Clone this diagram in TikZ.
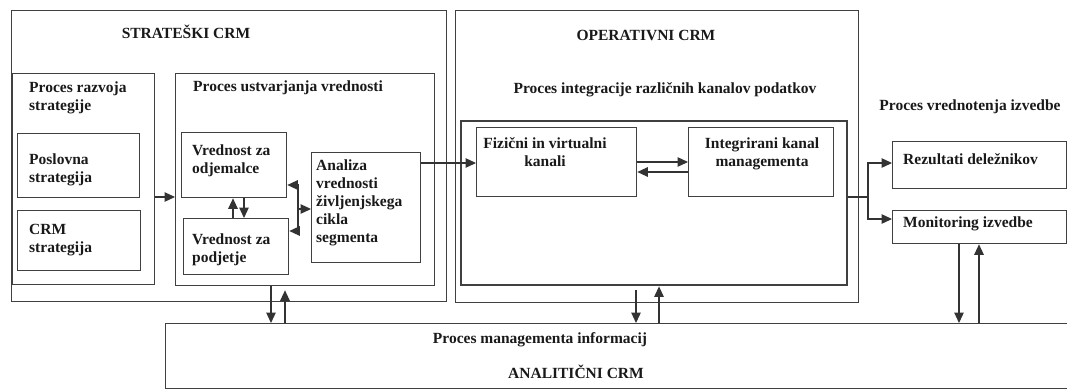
\documentclass[tikz,border=0pt]{standalone}
\usepackage{fontspec}
\setmainfont{Liberation Serif}
\usetikzlibrary{arrows.meta}

\tikzset{
  box/.style={draw=black!75, line width=1.3pt, inner sep=0pt, anchor=north west},
  dbox/.style={box, line width=2.4pt},
  lbl/.style={inner sep=0pt, text=black!90, font=\fontsize{15.5}{18}\selectfont\bfseries},
  arr/.style={draw=black!80, line width=1.2pt, -{Triangle[length=10.5pt,width=9.5pt]}},
  ln/.style={draw=black!80, line width=1.2pt}
}

\begin{document}
\begin{tikzpicture}[x=1pt, y=-1pt]
\useasboundingbox (0,0) rectangle (1067,389);

% outer areas
\node[box, minimum width=435pt, minimum height=291pt] (strat) at (11,10) {};
\node[box, minimum width=403pt, minimum height=292pt] (oper)  at (455,10) {};
\node[box, minimum width=905pt, minimum height=65pt]  (analit) at (165,323) {};

% strategic CRM
\node[box, minimum width=142pt, minimum height=211pt] (razv) at (12,73) {};
\node[box, minimum width=122pt, minimum height=64pt]  (posl) at (17,133) {};
\node[box, minimum width=123pt, minimum height=60pt]  (crms) at (17,210) {};
\node[box, minimum width=259pt, minimum height=212pt] (ustv) at (175,73) {};
\node[box, minimum width=105pt, minimum height=65pt]  (odj)  at (181,132) {};
\node[box, minimum width=105pt, minimum height=56pt]  (podj) at (183,218) {};
\node[box, minimum width=109pt, minimum height=110pt] (anal) at (311,152) {};

% operative CRM
\node[dbox, minimum width=386pt, minimum height=164pt] (integ) at (460,120) {};
\node[box, minimum width=160pt, minimum height=69pt]  (fiz)   at (476,127) {};
\node[box, minimum width=145pt, minimum height=69pt]  (ikm)   at (688,127) {};

% performance evaluation
\node[box, minimum width=174pt, minimum height=47pt] (rez) at (892,141) {};
\node[box, minimum width=174pt, minimum height=33pt] (mon) at (892,210) {};

% labels
\node[lbl, anchor=base] (tStrat) at (186,38) {STRATEŠKI CRM};
\node[lbl, anchor=base] (tOper) at (646,40) {OPERATIVNI CRM};
\node[lbl, anchor=base] (tInteg) at (665,93) {Proces integracije različnih kanalov podatkov};
\node[lbl, anchor=north west, align=left] (tRazv) at (29,81.5) {Proces razvoja\\strategije};
\node[lbl, anchor=base west] (tUstv) at (193,91) {Proces ustvarjanja vrednosti};
\node[lbl, anchor=north west, align=left] (tPosl) at (29,153.5) {Poslovna\\strategija};
\node[lbl, anchor=north west, align=left] (tCrms) at (29,224.5) {CRM\\strategija};
\node[lbl, anchor=north west, align=left] (tOdj) at (192,144.5) {Vrednost za\\odjemalce};
\node[lbl, anchor=north west, align=left] (tPodj) at (192,233.5) {Vrednost za\\podjetje};
\node[lbl, anchor=north west, align=left] (tAnal) at (316,159.5) {Analiza\\vrednosti\\življenjskega\\cikla\\segmenta};
\node[lbl, anchor=north, align=center] (tFiz) at (545,137.5) {Fizični in virtualni\\kanali};
\node[lbl, anchor=north, align=center] (tIkm) at (762,137.5) {Integrirani kanal\\managementa};
\node[lbl, anchor=base] (tVred) at (970,110) {Proces vrednotenja izvedbe};
\node[lbl, anchor=base west] (tRez) at (903,164) {Rezultati deležnikov};
\node[lbl, anchor=base west] (tMon) at (903,227) {Monitoring izvedbe};
\node[lbl, anchor=base] (tMi) at (540,343) {Proces managementa informacij};
\node[lbl, anchor=base] (tAnalit) at (576,378) {ANALITIČNI CRM};

% strategy development -> value creation
\draw[arr] (razv.east |- 0,197) -- (ustv.west |- 0,197);

% customer value <-> company value
\draw[arr] (podj.north -| 233,0) -- (odj.south -| 233,0);
\draw[arr] (odj.south -| 244,0) -- (podj.north -| 244,0);

% bracket between values and segment analysis
\coordinate (brT) at (298,185);
\coordinate (brM) at (298,209);
\coordinate (brB) at (298,231);
\draw[ln] (brT) -- (brB);
\draw[arr] (brT) -- (odj.east |- brT);
\draw[arr] (brB) -- (podj.east |- brB);
\draw[arr] (brM) -- (anal.west |- brM);

% segment analysis -> channels
\draw[arr] (anal.east |- 0,163) -- (fiz.west |- 0,163);

% channels <-> integrated channel management
\draw[arr] (fiz.east |- 0,162) -- (ikm.west |- 0,162);
\draw[arr] (ikm.west |- 0,172) -- (fiz.east |- 0,172);

% integration -> performance evaluation
\coordinate (sp) at (868,197);
\draw[ln] (integ.east |- sp) -- (sp);
\draw[arr] (sp) |- (rez.west |- 0,163);
\draw[arr] (sp) |- (mon.west |- 0,219);

% links with analytical CRM
\draw[arr] (ustv.south -| 271,0) -- (analit.north -| 271,0);
\draw[arr, shorten >=4pt] (analit.north -| 285,0) -- (ustv.south -| 285,0);
\draw[arr, shorten <=4pt] (integ.south -| 636,0) -- (analit.north -| 636,0);
\draw[arr] (analit.north -| 659,0) -- (integ.south -| 659,0);
\draw[arr] (mon.south -| 959,0) -- (analit.north -| 959,0);
\draw[arr] (analit.north -| 979,0) -- (mon.south -| 979,0);
\end{tikzpicture}
\end{document}
